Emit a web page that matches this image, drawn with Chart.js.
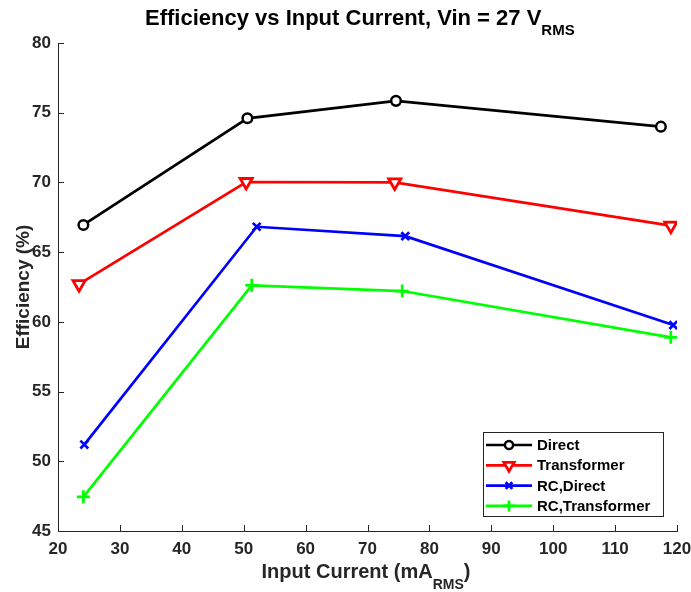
<!DOCTYPE html>
<html>
<head>
<meta charset="utf-8">
<script src="https://cdn.jsdelivr.net/npm/chart.js@4"></script>
<style>
  html, body { margin: 0; padding: 0; background: #fff; }
  #wrap { width: 691px; height: 592px; }
</style>
</head>
<body>
<div id="wrap"><canvas id="eff_chart"></canvas></div>
<script>
// data
let series_names = ['Direct', 'Transformer', 'RC,Direct', 'RC,Transformer'];

let direct_current = [24.1, 50.6, 74.6, 117.4];
let direct_eff = [66.95, 74.6, 75.85, 74.0];

let transformer_current = [23.4, 50.4, 74.4, 119.0];
let transformer_eff = [62.7, 70.03, 70.0, 66.9];

let rcdirect_current = [24.25, 52.1, 76.1, 119.4];
let rcdirect_eff = [51.2, 66.82, 66.15, 59.77];

let rctransformer_current = [24.1, 51.3, 75.6, 119.0];
let rctransformer_eff = [47.45, 62.62, 62.21, 58.89];

let x_ticks = [20, 30, 40, 50, 60, 70, 80, 90, 100, 110, 120];
let y_ticks = [45, 50, 55, 60, 65, 70, 75, 80];

const axis_color = '#262626';
const font_family = '"Liberation Sans", Arial, Helvetica, sans-serif';

function pts(xs, ys) {
    return xs.map((x, i) => ({x: x, y: ys[i]}));
}

const eff_data = {
    datasets: [{
        label: series_names[0],
        data: pts(direct_current, direct_eff),
        borderColor: '#000000',
        backgroundColor: '#ffffff',
        borderWidth: 2.7,
        pointStyle: 'circle',
        pointRadius: 4.8,
        pointBorderWidth: 2.5,
        pointRotation: 0
    }, {
        label: series_names[1],
        data: pts(transformer_current, transformer_eff),
        borderColor: '#ff0000',
        backgroundColor: '#ffffff',
        borderWidth: 2.7,
        pointStyle: 'triangle',
        pointRadius: 7,
        pointBorderWidth: 2.8,
        pointRotation: 180
    }, {
        label: series_names[2],
        data: pts(rcdirect_current, rcdirect_eff),
        borderColor: '#0000ff',
        backgroundColor: '#0000ff',
        borderWidth: 2.7,
        pointStyle: 'crossRot',
        pointRadius: 5.5,
        pointBorderWidth: 2.7,
        pointRotation: 0
    }, {
        label: series_names[3],
        data: pts(rctransformer_current, rctransformer_eff),
        borderColor: '#00ff00',
        backgroundColor: '#00ff00',
        borderWidth: 2.7,
        pointStyle: 'cross',
        pointRadius: 6.5,
        pointBorderWidth: 2.7,
        pointRotation: 0
    }]
};

// text with a subscript part: parts = [[text, size, dy], ...]
function drawParts(ctx, parts, x, y, align) {
    let total = 0;
    parts.forEach(p => {
        ctx.font = 'bold ' + p[1] + 'px ' + font_family;
        total += ctx.measureText(p[0]).width;
    });
    let cx = align === 'center' ? x - total / 2 : x;
    parts.forEach(p => {
        ctx.font = 'bold ' + p[1] + 'px ' + font_family;
        ctx.fillText(p[0], cx, y + p[2]);
        cx += ctx.measureText(p[0]).width;
    });
}

const decorations = {
    id: 'decorations',
    afterDraw(chart) {
        const ctx = chart.ctx;
        const a = chart.chartArea;
        const xs = chart.scales.x, ys = chart.scales.y;
        ctx.save();

        // inward tick marks
        ctx.strokeStyle = axis_color;
        ctx.lineWidth = 1;
        ctx.beginPath();
        x_ticks.forEach(v => {
            const px = Math.round(xs.getPixelForValue(v)) + 0.5;
            ctx.moveTo(px, a.bottom);
            ctx.lineTo(px, a.bottom - 6);
        });
        y_ticks.forEach(v => {
            const py = Math.round(ys.getPixelForValue(v)) + 0.5;
            ctx.moveTo(a.left, py);
            ctx.lineTo(a.left + 6, py);
        });
        ctx.stroke();

        // title and axis titles
        ctx.fillStyle = '#000000';
        ctx.textAlign = 'left';
        ctx.textBaseline = 'alphabetic';
        drawParts(ctx, [['Efficiency vs Input Current, Vin = 27 V', 22, 0], ['RMS', 15, 10]], 145, 25, 'left');

        ctx.fillStyle = axis_color;
        drawParts(ctx, [['Input Current (mA', 20, 0], ['RMS', 14, 11], [')', 20, 0]], 366, 578, 'center');

        ctx.save();
        ctx.translate(29, 287);
        ctx.rotate(-Math.PI / 2);
        drawParts(ctx, [['Efficiency (%)', 19, 0]], 0, 0, 'center');
        ctx.restore();

        // legend box
        const lx = 483, ly = 432, lw = 180, lh = 84;
        ctx.fillStyle = '#ffffff';
        ctx.fillRect(lx, ly, lw, lh);
        ctx.strokeStyle = axis_color;
        ctx.lineWidth = 1;
        ctx.strokeRect(lx + 0.5, ly + 0.5, lw, lh);
        chart.data.datasets.forEach((ds, i) => {
            const ry = 445 + i * 20.3;
            ctx.strokeStyle = ds.borderColor;
            ctx.lineWidth = ds.borderWidth;
            ctx.beginPath();
            ctx.moveTo(486, ry);
            ctx.lineTo(532, ry);
            ctx.stroke();
            ctx.lineWidth = ds.pointBorderWidth;
            ctx.fillStyle = ds.backgroundColor;
            Chart.helpers.drawPoint(ctx, {
                pointStyle: ds.pointStyle,
                radius: ds.pointRadius * 0.85,
                rotation: ds.pointRotation,
                borderWidth: ds.pointBorderWidth
            }, 509, ry);
            ctx.fillStyle = '#000000';
            ctx.textBaseline = 'middle';
            ctx.font = 'bold 15px ' + font_family;
            ctx.fillText(ds.label, 537, ry + 1);
        });
        ctx.restore();
    }
};

const eff_config = {
    type: 'line',
    data: eff_data,
    options: {
        responsive: true,
        maintainAspectRatio: false,
        animation: false,
        layout: {
            padding: {top: 43, right: 14, left: 0, bottom: 0}
        },
        plugins: {
            legend: {display: false},
            title: {display: false},
            tooltip: {enabled: false}
        },
        scales: {
            x: {
                type: 'linear',
                min: 20,
                max: 120,
                afterFit: s => { s.height = 61; s.paddingLeft = 0; s.paddingRight = 0; },
                afterBuildTicks: s => { s.ticks = x_ticks.map(v => ({value: v})); },
                grid: {display: true, drawOnChartArea: false, drawTicks: false},
                border: {display: true, color: axis_color, width: 1},
                ticks: {
                    padding: 8,
                    color: axis_color,
                    maxRotation: 0,
                    font: {family: font_family, size: 17, weight: 'bold'}
                }
            },
            y: {
                type: 'linear',
                min: 45,
                max: 80,
                afterFit: s => { s.width = 58; s.paddingTop = 0; s.paddingBottom = 0; },
                afterBuildTicks: s => { s.ticks = y_ticks.map(v => ({value: v})); },
                grid: {display: true, drawOnChartArea: false, drawTicks: false},
                border: {display: true, color: axis_color, width: 1},
                ticks: {
                    padding: 7,
                    color: axis_color,
                    font: {family: font_family, size: 17, weight: 'bold'}
                }
            }
        }
    },
    plugins: [decorations]
};

const eff_chart = new Chart(
    document.getElementById('eff_chart'),
    eff_config
);
</script>
</body>
</html>
